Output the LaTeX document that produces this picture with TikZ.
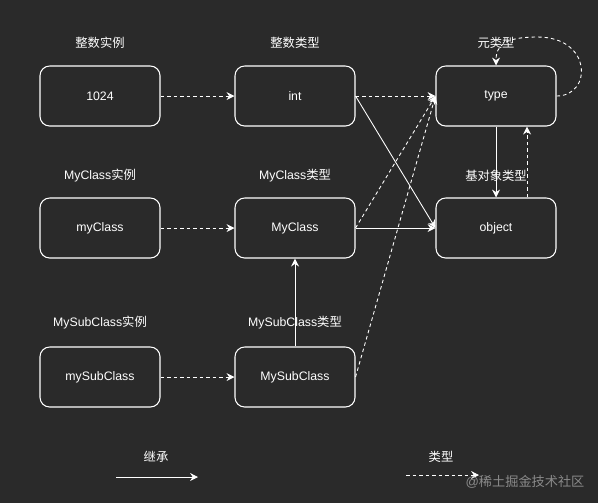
\documentclass[tikz,border=0pt]{standalone}
\usepackage{fontspec}
\setmainfont{Liberation Sans}
\newfontfamily\cjk{Noto Sans CJK SC}
\usetikzlibrary{arrows.meta}

\definecolor{bgdark}{HTML}{2A2A2A}
\definecolor{wmgray}{HTML}{8A8A8A}

\begin{document}
\begin{tikzpicture}[
    font=\fontsize{7}{8}\selectfont,
    obj/.style={draw=white, line width=0.6pt, rounded corners=5.5pt, minimum width=2.4cm, minimum height=1.2cm, text=white},
    caption/.style={text=white, inner sep=1pt},
    inherit/.style={-{Stealth[length=4.5pt,width=4.5pt]}, white, line width=0.5pt},
    typeof/.style={-{Stealth[length=4.5pt,width=4.5pt]}, white, line width=0.5pt, dash pattern=on 2pt off 1.7pt}
]

% fond
\fill[bgdark] (0,0) rectangle (11.96,-10.06);
\useasboundingbox (0,0) rectangle (11.96,-10.06);

% objets
\node[obj] (n1024) at (2.0,-1.92) {1024};
\node[obj] (int) at (5.9,-1.92) {int};
\node[obj] (type) at (9.92,-1.92) {type};
\node[obj] (myclass) at (2.0,-4.56) {myClass};
\node[obj] (MyClass) at (5.9,-4.56) {MyClass};
\node[obj] (object) at (9.92,-4.56) {object};
\node[obj] (mysub) at (2.0,-7.54) {mySubClass};
\node[obj] (MySub) at (5.9,-7.54) {MySubClass};

% titres
\node[caption] (t1024) at (2.0,-0.86) {\cjk 整数实例};
\node[caption] (tint) at (5.9,-0.86) {\cjk 整数类型};
\node[caption] (ttype) at (9.92,-0.86) {\cjk 元类型};
\node[caption] (tmyclass) at (2.0,-3.52) {MyClass{\cjk 实例}};
\node[caption] (tMyClass) at (5.9,-3.52) {MyClass{\cjk 类型}};
\node[caption] (tobject) at (9.92,-3.52) {\cjk 基对象类型};
\node[caption] (tmysub) at (2.0,-6.46) {MySubClass{\cjk 实例}};
\node[caption] (tMySub) at (5.9,-6.46) {MySubClass{\cjk 类型}};

% type de
\draw[typeof] (n1024) -- (int);
\draw[typeof] (int) -- (type);
\draw[typeof] (myclass) -- (MyClass);
\draw[typeof] (MyClass.east) -- (type.west);
\draw[typeof] (mysub) -- (MySub);
\draw[typeof] (MySub.east) -- (type.west);
\draw[typeof] ([xshift=0.62cm]object.north) -- ([xshift=0.62cm]type.south);
\draw[typeof] (type.east) .. controls (11.85,-1.92) and (11.85,-0.74) .. (10.75,-0.74)
    .. controls (10.1,-0.74) and (9.92,-0.9) .. (type.north);

% heritage
\draw[inherit] (int.east) -- (object.west);
\draw[inherit] (MyClass) -- (object);
\draw[inherit] (MySub) -- (MyClass);
\draw[inherit] (type) -- (object);

% legende
\node[caption] (linherit) at (3.12,-9.14) {\cjk 继承};
\coordinate (ia) at (2.32,-9.54);
\coordinate (ib) at (3.96,-9.54);
\draw[inherit] (ia) -- (ib);
\node[caption] (ltype) at (8.82,-9.14) {\cjk 类型};
\coordinate (ta) at (8.12,-9.5);
\coordinate (tb) at (9.58,-9.5);
\draw[typeof] (ta) -- (tb);

\node[text=wmgray, font=\fontsize{7.5}{9}\selectfont] (wm) at (10.5,-9.64) {@{\cjk 稀土掘金技术社区}};

\end{tikzpicture}
\end{document}
